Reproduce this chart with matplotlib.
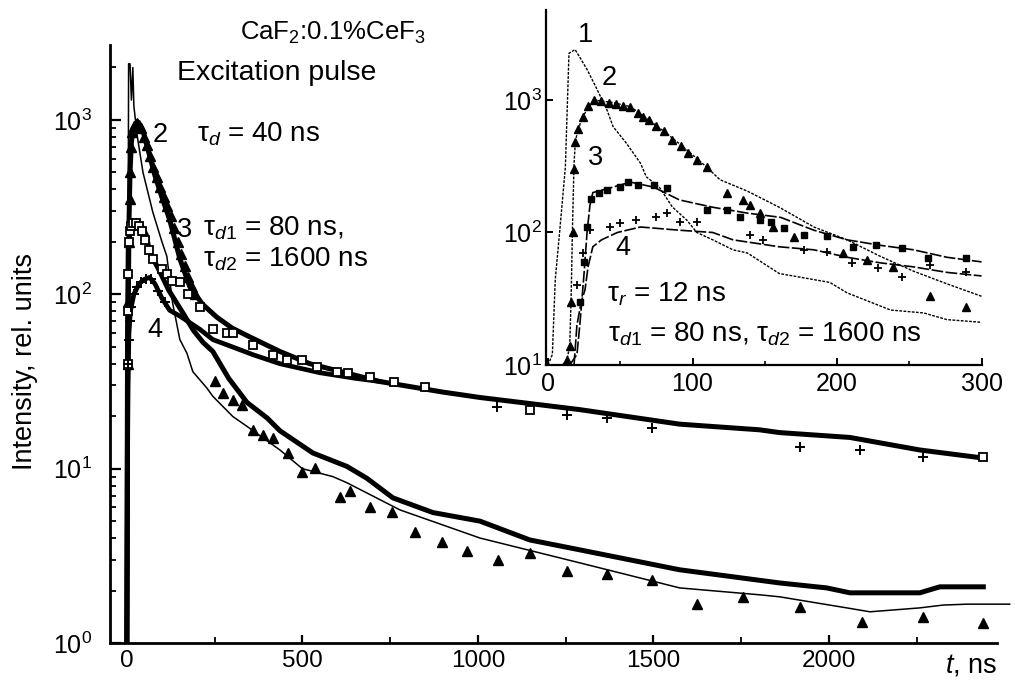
import matplotlib
matplotlib.use("Agg")
import matplotlib.pyplot as plt
from matplotlib.ticker import LogLocator, MultipleLocator, NullFormatter, FixedLocator

plt.rcParams['font.family'] = ['Liberation Sans', 'DejaVu Sans']
plt.rcParams['mathtext.fontset'] = 'custom'
plt.rcParams['mathtext.rm'] = 'Liberation Sans'
plt.rcParams['mathtext.it'] = 'Liberation Sans:italic'
plt.rcParams['mathtext.bf'] = 'Liberation Sans:bold'

# ---------------- main panel data (t in ns, intensity in rel. units) ----------------
pulse_t = [0, 3, 5, 9, 13, 17, 20, 30, 46, 74, 100, 114, 130, 151, 171, 188, 228, 245, 302, 342,
           436, 500, 587, 627, 778, 1006, 1291, 1575, 1803, 1860, 2051, 2117, 2259, 2325, 2393, 2515]
pulse_I = [1, 60, 2100, 2100, 1300, 2000, 1200, 800, 500, 296, 200, 165, 90, 55, 46, 36, 29, 26, 19.9, 17.5,
           12.8, 10.0, 9.0, 8.3, 5.8, 4.0, 2.88, 2.07, 1.89, 1.84, 1.59, 1.51, 1.59, 1.65, 1.67, 1.67]

c2_t = [0, 2, 4, 6, 9, 13, 18, 25, 35, 45, 60, 80, 100, 122, 151, 179, 215, 256, 300, 350,
        436, 521, 721, 900, 1006, 1291, 1575, 1803, 1860, 2060, 2259, 2440]
c2_I = [1, 20, 80, 250, 500, 750, 900, 950, 950, 880, 680, 480, 360, 268, 160, 111, 88, 74, 64, 57,
        47, 40, 31.6, 27.5, 25.6, 21.8, 18.0, 16.7, 16.1, 15.1, 12.8, 11.5]

c3_t = [0, 2, 4, 8, 15, 25, 40, 55, 65, 90, 120, 160, 190, 217, 245, 290, 342, 400, 436, 530,
        627, 684, 758, 872, 1006, 1148, 1291, 1575, 1860, 1994, 2060, 2259, 2316, 2440]
c3_I = [1, 60, 180, 220, 235, 245, 250, 220, 174, 140, 105, 78, 62, 53, 47, 33, 24, 19.5, 16.5, 12.3,
        10.3, 8.8, 6.8, 5.6, 5.0, 3.9, 3.42, 2.63, 2.21, 2.07, 1.94, 1.94, 2.1, 2.1]

c4_t = [0, 3, 6, 10, 20, 35, 50, 65, 80, 100, 122, 151, 208, 245, 300, 360, 436, 550, 650, 721]
c4_I = [1, 30, 60, 80, 100, 115, 122, 125, 115, 95, 81, 75, 63, 55, 50, 45, 40, 35.5, 33, 31.6]

tri_t = [2, 4, 6, 8, 10, 13, 16, 20, 25, 30, 35, 40, 48, 56, 65, 75, 85, 95, 105, 115, 125, 135,
         145, 155, 165, 175, 185, 195,
         251, 274, 302, 327, 359, 388, 416, 459, 498, 536, 607, 635, 692, 755, 820, 897, 969,
         1057, 1148, 1254, 1368, 1496, 1624, 1755, 1917, 2094, 2268, 2440]
tri_I = [40, 90, 200, 350, 500, 700, 850, 920, 950, 960, 940, 900, 800, 720, 620, 540, 470, 410,
         360, 320, 280, 240, 200, 170, 145, 125, 110, 100,
         32, 27, 24.9, 23.3, 16.7, 15.6, 15.0, 12.3, 9.6, 10.1, 6.9, 7.4, 6.0, 5.65, 4.34, 3.8, 3.38,
         3.0, 3.29, 2.59, 2.49, 2.30, 1.67, 1.84, 1.61, 1.32, 1.41, 1.30]

sq_t = [2, 3, 4, 5, 8, 12, 18, 26, 34, 42, 52, 62, 75,
        100, 114, 130, 151, 175, 208, 245, 285, 302, 359, 416, 456, 498, 541, 598, 630, 692, 760,
        850, 1148, 2440]
sq_I = [40, 80, 130, 200, 230, 245, 255, 255, 245, 230, 205, 180, 160,
        140, 130, 120, 117, 100, 85, 63, 60, 60, 51.5, 45, 42, 42, 38.5, 36, 35.5, 33.7, 31.5,
        29.5, 21.8, 11.7]

cr_t = [3, 5, 8, 12, 20, 30, 40, 55, 70, 90, 110, 1054, 1254, 1368, 1496, 1917, 2088, 2268]
cr_I = [40, 55, 70, 85, 100, 110, 118, 122, 122, 105, 90, 22.7, 20.4, 19.6, 17.0, 13.4, 12.8, 11.7]

# ---------------- inset data ----------------
in1_t = [0, 3, 5, 8, 12, 14.5, 18.7, 22, 27, 33, 41, 45, 54, 64, 68, 77, 86, 96, 103, 114, 128, 138,
         160, 195, 207, 237, 260, 276, 300]
in1_I = [10, 12, 44, 100, 310, 2250, 2400, 2100, 1700, 1260, 830, 630, 475, 333, 263, 220, 156, 124,
         100, 88, 74, 70, 49, 42, 35, 26, 24.7, 22, 21]

in2_t = [10, 13, 15, 16, 17, 18, 19, 23.5, 32, 45, 57, 68, 82, 96, 110, 119, 138, 160, 184, 207,
         230, 253, 276, 300]
in2_I = [10, 11, 13.7, 32.6, 118, 330, 500, 740, 1000, 955, 890, 730, 560, 420, 310, 250, 205, 155,
         110, 88, 66, 51, 41, 33]

in3_t = [15, 20, 22, 25, 27, 29, 31, 45, 57, 73, 91, 114, 138, 161, 184, 207, 230, 253, 276, 300]
in3_I = [10, 12, 20, 50, 100, 160, 200, 220, 240, 220, 176, 155, 140, 130, 104, 88, 80, 74, 65, 60]

in4_t = [18, 20, 23, 25.6, 27.7, 31, 37, 48, 64, 91, 114, 128, 160, 184, 207, 230, 253, 276, 300]
in4_I = [10, 20, 30, 37, 55, 78, 88, 100, 110, 104, 100, 88, 78, 74, 65, 59, 55, 50, 47]

itri_t = [13, 15, 16, 17, 18, 19, 21, 24, 28, 32, 37, 42, 47, 52, 57, 62, 66, 70, 75, 80, 86, 92,
          97, 103, 110, 124, 135, 140, 147, 156, 170, 204, 221, 239, 264, 289]
itri_I = [11, 14, 30, 100, 300, 480, 600, 750, 900, 1000, 980, 950, 930, 900, 880, 800, 740, 700,
          640, 580, 500, 450, 400, 350, 310, 200, 175, 162, 140, 110, 92, 70, 62, 55, 33, 27.4]

isq_t = [22, 25, 27, 30, 35, 41, 50, 55, 62, 73, 82, 110, 124, 133, 147, 154, 163, 177, 193, 211,
         227, 245, 263, 289]
isq_I = [30, 60, 110, 180, 200, 210, 220, 240, 230, 230, 216, 148, 148, 130, 124, 120, 108, 96, 94,
         78, 81, 76, 64, 64]

icr_t = [20, 24, 29, 43, 50, 61, 75, 82, 91, 103, 140, 149, 177, 193, 210, 228, 245, 264, 289]
icr_I = [40, 70, 104, 110, 118, 124, 130, 140, 120, 120, 95, 88, 74, 71, 59, 54, 46, 57, 50]

main_xticks = [0, 500, 1000, 1500, 2000]
inset_xticks = [0, 100, 200, 300]

# ---------------- figure ----------------
W, H = 1015, 680
fig = plt.figure(figsize=(W / 100, H / 100), dpi=100)


def fx(px):
    return px / W


def fy(py):
    return 1 - py / H


ax = fig.add_axes([fx(110), fy(643), (997 - 110) / W, (643 - 45) / H])
ax.set_yscale('log')
ax.set_xlim(-48, 2479)
ax.set_ylim(1, 2692)

ax.plot(pulse_t, pulse_I, color='black', lw=1.1, clip_on=False, zorder=3)
ax.plot(c2_t, c2_I, color='black', lw=3.6, solid_joinstyle='round', zorder=3)
ax.plot(c3_t, c3_I, color='black', lw=3.6, solid_joinstyle='round', zorder=3)
ax.plot(c4_t, c4_I, color='black', lw=3.4, solid_joinstyle='round', zorder=3)
ax.plot(tri_t, tri_I, ls='none', marker='^', ms=6.5, color='black', zorder=4)
ax.plot(sq_t, sq_I, ls='none', marker='s', ms=6, mfc='white', mec='black', mew=1.3, zorder=4)
ax.plot(cr_t, cr_I, ls='none', marker='+', ms=7, mec='black', mew=1.4, zorder=4)

for s in ['top', 'right']:
    ax.spines[s].set_visible(False)
for s in ['left', 'bottom']:
    ax.spines[s].set_linewidth(2.0)

ax.xaxis.set_major_locator(FixedLocator(main_xticks))
ax.xaxis.set_minor_locator(MultipleLocator(250))
ax.yaxis.set_major_locator(LogLocator(base=10, numticks=10))
ax.yaxis.set_minor_locator(LogLocator(base=10, subs=range(2, 10), numticks=20))
ax.yaxis.set_minor_formatter(NullFormatter())
ax.tick_params(axis='both', which='major', direction='in', labelsize=18, width=1.6)
ax.tick_params(axis='x', which='major', length=6, pad=5, labelsize=17.5)
ax.tick_params(axis='y', which='major', length=8, pad=13)
ax.tick_params(axis='both', which='minor', direction='in', length=4, width=1.3)

fig.text(fx(25), fy(361), 'Intensity, rel. units', rotation=90, ha='center', va='center', fontsize=19.5)
fig.text(fx(945), fy(672), '$t$, ns', ha='left', va='baseline', fontsize=19.5)

fig.text(fx(240), fy(40), 'CaF$_2$:0.1%CeF$_3$', ha='left', va='baseline', fontsize=18.5)
fig.text(fx(177), fy(80), 'Excitation pulse', ha='left', va='baseline', fontsize=20.5)
fig.text(fx(153), fy(142), '2', ha='left', va='baseline', fontsize=19.5)
fig.text(fx(197), fy(142), 'τ$_d$ = 40 ns', ha='left', va='baseline', fontsize=20)
fig.text(fx(177), fy(237), '3', ha='left', va='baseline', fontsize=19.5)
fig.text(fx(203), fy(235), 'τ$_{d1}$ = 80 ns,', ha='left', va='baseline', fontsize=20)
fig.text(fx(203), fy(267), 'τ$_{d2}$ = 1600 ns', ha='left', va='baseline', fontsize=20)
fig.text(fx(147), fy(337), '4', ha='left', va='baseline', fontsize=19.5)

# ---------------- inset ----------------
ins = fig.add_axes([fx(546), fy(365), (982 - 546) / W, (365 - 10) / H])
ins.set_yscale('log')
ins.set_xlim(-1.4, 300.3)
ins.set_ylim(10, 4775)
ins.patch.set_alpha(0)

ins.plot(in1_t, in1_I, color='black', lw=1.0, ls=(0, (2, 1)))
ins.plot(in2_t, in2_I, color='black', lw=1.0, ls=(0, (2, 1)))
ins.plot(in3_t, in3_I, color='black', lw=1.2, ls=(0, (7, 1.5)))
ins.plot(in4_t, in4_I, color='black', lw=1.2, ls=(0, (7, 1.5)))
ins.plot(itri_t, itri_I, ls='none', marker='^', ms=6, color='black')
ins.plot(isq_t, isq_I, ls='none', marker='s', ms=5, color='black')
ins.plot(icr_t, icr_I, ls='none', marker='+', ms=6, mec='black', mew=1.3)

for s in ['top', 'right']:
    ins.spines[s].set_visible(False)
for s in ['left', 'bottom']:
    ins.spines[s].set_linewidth(1.6)
ins.xaxis.set_major_locator(FixedLocator(inset_xticks))
ins.xaxis.set_minor_locator(MultipleLocator(50))
ins.yaxis.set_major_locator(LogLocator(base=10, numticks=10))
ins.yaxis.set_minor_locator(FixedLocator([]))
ins.tick_params(axis='both', which='major', direction='in', labelsize=18, length=5, width=1.4)
ins.tick_params(axis='x', which='major', pad=5)
ins.tick_params(axis='y', which='major', pad=3)
ins.tick_params(axis='x', which='minor', direction='in', length=3, width=1.2)

fig.text(fx(578), fy(42), '1', ha='left', va='baseline', fontsize=19.5)
fig.text(fx(602), fy(85), '2', ha='left', va='baseline', fontsize=19.5)
fig.text(fx(588), fy(165), '3', ha='left', va='baseline', fontsize=19.5)
fig.text(fx(615), fy(255), '4', ha='left', va='baseline', fontsize=19.5)
fig.text(fx(607), fy(302), 'τ$_r$ = 12 ns', ha='left', va='baseline', fontsize=20)
fig.text(fx(608), fy(342), 'τ$_{d1}$ = 80 ns, τ$_{d2}$ = 1600 ns', ha='left', va='baseline', fontsize=20)

fig.savefig('out.png', dpi=100)
